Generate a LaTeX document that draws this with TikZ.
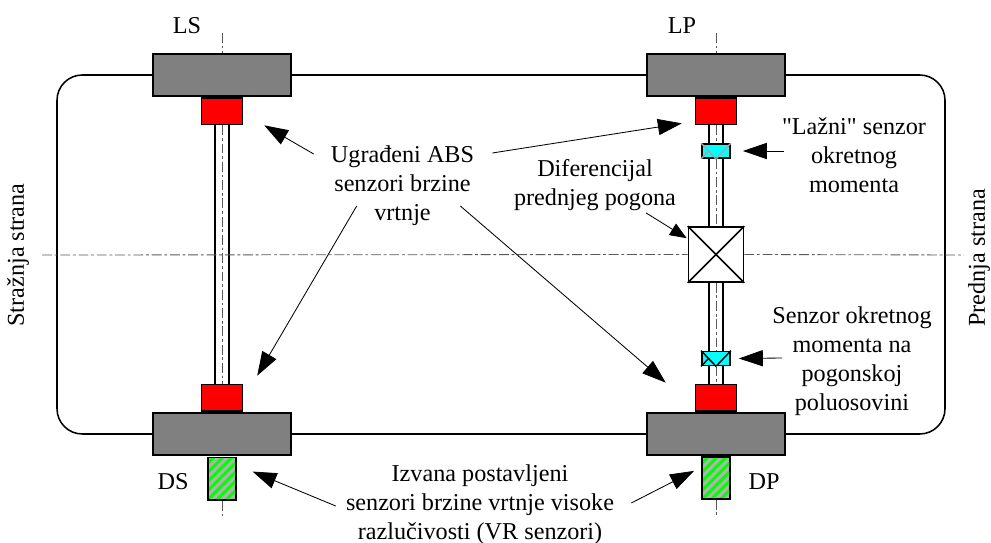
\documentclass[tikz,border=0pt]{standalone}
\usepackage{fontspec}
\setmainfont{Liberation Serif}[Ligatures=TeXOff]
\usetikzlibrary{arrows.meta, positioning, calc, patterns.meta}
\definecolor{wheelGray}{RGB}{128,128,128}
\definecolor{hatchGray}{RGB}{178,178,178}
\definecolor{ringRed}{RGB}{255,0,0}
\definecolor{hatchGreen}{RGB}{0,255,0}
\definecolor{torqueCyan}{RGB}{0,255,255}
\tikzset{
    schema/.style={x=0.025cm, y=-0.025cm, line join=miter,
                   font=\fontsize{17.2}{20.7}\selectfont},
    wheel/.style={draw=black, line width=1.2pt, fill=wheelGray, inner sep=0pt,
                  minimum width=98pt, minimum height=30pt},
    absring/.style={draw=black, line width=1.2pt, fill=ringRed, inner sep=0pt,
                    minimum width=29pt, minimum height=19pt},
    vrsensor/.style={draw=black, line width=1.2pt, preaction={fill=hatchGray},
                     inner sep=0pt, minimum width=20pt, minimum height=30pt,
                     pattern={Lines[angle=45, distance=4.6pt, line width=2.2pt]},
                     pattern color=hatchGreen},
    torque/.style={draw=black, line width=1.2pt, fill=torqueCyan, inner sep=0pt,
                   minimum width=20pt, minimum height=10pt},
    diff/.style={draw=black, line width=1.2pt, fill=white, inner sep=0pt,
                 minimum size=39pt},
    shaftline/.style={line width=1.2pt},
    body/.style={line width=1.1pt, rounded corners=18pt},
    axis/.style={line width=0.6pt, draw=black!65,
                 dash pattern=on 7pt off 2pt on 2pt off 2pt},
    arrow/.style={-{Triangle[length=17pt, width=11.5pt]}, line width=0.6pt},
    note/.style={align=center, inner sep=0pt},
}
\begin{document}
\begin{tikzpicture}[schema, node distance=0pt]
\useasboundingbox (0,0) rectangle (991,543);

% Vehicle outline
\draw[body] (222,75) -- (57,75) -- (57,434) -- (945,434) -- (945,75) -- cycle;

% Wheels
\node[wheel] (wheelLS) at (222,75) {};
\node[wheel] (wheelLP) at (716,75) {};
\node[wheel] (wheelDS) at (222,434) {};
\node[wheel] (wheelDP) at (716,434) {};

% ABS sensors on the hubs
\node[absring, below=of wheelLS] (absLS) {};
\node[absring, below=of wheelLP] (absLP) {};
\node[absring, above=of wheelDS] (absDS) {};
\node[absring, above=of wheelDP] (absDP) {};

% High resolution sensors
\node[vrsensor, below=of wheelDS] (vrDS) {};
\node[vrsensor, below=of wheelDP] (vrDP) {};

% Differential and half shafts
\node[diff] (diffP) at (716,254.5) {};
\node[torque] (fakeTq) at (716,151) {};
\node[torque] (realTq) at (716,358.5) {};

\draw[shaftline] (absLS.south -| 215,0) -- (absDS.north -| 215,0);
\draw[shaftline] (absLS.south -| 229,0) -- (absDS.north -| 229,0);
\draw[shaftline] (absLP.south -| 709,0) -- (fakeTq.north -| 709,0);
\draw[shaftline] (absLP.south -| 723,0) -- (fakeTq.north -| 723,0);
\draw[shaftline] (fakeTq.south -| 709,0) -- (diffP.north -| 709,0);
\draw[shaftline] (fakeTq.south -| 723,0) -- (diffP.north -| 723,0);
\draw[shaftline] (diffP.south -| 709,0) -- (realTq.north -| 709,0);
\draw[shaftline] (diffP.south -| 723,0) -- (realTq.north -| 723,0);
\draw[shaftline] (realTq.south -| 709,0) -- (absDP.north -| 709,0);
\draw[shaftline] (realTq.south -| 723,0) -- (absDP.north -| 723,0);

% Crosses
\draw[shaftline] (diffP.north west) -- (diffP.south east);
\draw[shaftline] (diffP.north east) -- (diffP.south west);
\draw[line width=1pt, draw=black!35] (fakeTq.north west) -- (fakeTq.south) -- (fakeTq.north east);
\draw[line width=1pt, draw=black!35] (fakeTq.south west) -- ($(fakeTq.north west)!0.5!(fakeTq.south)$);
\draw[line width=1pt] (realTq.north west) -- (realTq.south) -- (realTq.north east);
\draw[line width=1pt] (realTq.south west) -- ($(realTq.north west)!0.5!(realTq.south)$);

% Axes
\draw[axis] (42,255) -- (diffP.west);
\draw[axis] (diffP.east) -- (964,255);
\draw[axis] (222,33) -- (wheelLS.north);
\draw[axis] (absLS.south) -- (absDS.north);
\draw[axis] (vrDS.south) -- (222,516);
\draw[axis] (716,33) -- (wheelLP.north);
\draw[axis] (absLP.south) -- (fakeTq.north);
\draw[axis] (fakeTq.south) -- (diffP.north);
\draw[axis] (diffP.south) -- (realTq.north);
\draw[axis] (realTq.south) -- (absDP.north);
\draw[axis] (vrDP.south) -- (716,516);

% Labels
\node[note] (nameLS) at (187,26) {LS};
\node[note] (nameLP) at (682,26) {LP};
\node[note] (nameDS) at (173,482) {DS};
\node[note] (nameDP) at (764,482) {DP};
\node[note, rotate=90] (rear) at (18,255) {Stražnja strana};
\node[note, rotate=90] (front) at (979,258) {Prednja strana};
\node[note] (absNote) at (402.5,186) {Ugrađeni ABS\\senzori brzine\\vrtnje};
\node[note] (diffNote) at (595,185) {Diferencijal\\prednjeg pogona};
\node[note] (fakeNote) at (854,155) {"Lažni" senzor\\okretnog\\momenta};
\node[note] (realNote) at (852,361) {Senzor okretnog\\momenta na\\pogonskoj\\poluosovini};
\node[note] (vrNote) at (480,505) {Izvana postavljeni\\senzori brzine vrtnje visoke\\razlučivosti (VR senzori)};

% Arrows
\draw[arrow] ($(absNote.west)+(-17,-32)$) -- ($(absLS.south east)+(21,0)$);
\draw[arrow] ($(absNote.east)+(18,-33)$) -- ($(absLP.south west)+(-13,-2)$);
\draw[arrow] ($(absNote.west)+(26,20)$) -- ($(absDS.north east)+(14,-8)$);
\draw[arrow] ($(absNote.east)+(-14,20)$) -- ($(absDP.north west)+(-29,-1)$);
\draw[-{Triangle[length=12pt, width=9.5pt]}, line width=0.6pt]
    ($(diffNote.east)+(-30,28)$) -- ($(diffP.north west)+(-1,12)$);
\draw[arrow] ($(fakeNote.west)+(2,-4)$) -- ($(fakeTq.east)+(12,0)$);
\draw[arrow] ($(realNote.west)+(10,-3)$) -- ($(realTq.east)+(8,0)$);
\draw[arrow] ($(vrNote.west)+(-10,1)$) -- ($(vrDS.east)+(15,-7)$);
\draw[arrow] ($(vrNote.east)+(17,-2)$) -- ($(vrDP.west)+(-7,-7)$);

\end{tikzpicture}
\end{document}
